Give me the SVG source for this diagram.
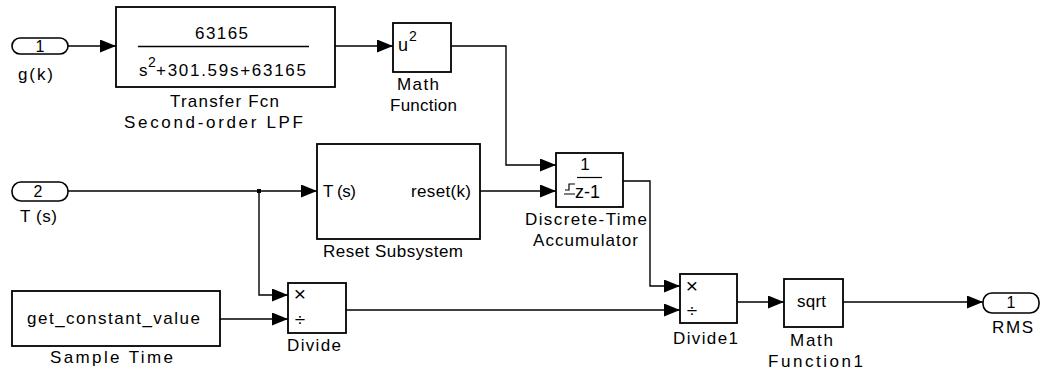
<svg xmlns="http://www.w3.org/2000/svg" width="1041" height="373" viewBox="0 0 1041 373">
<style>
.blk{fill:#fff;stroke:#000;stroke-width:1.8}
.port{fill:#fff;stroke:#000;stroke-width:1.6}
.w{fill:none;stroke:#000;stroke-width:1.4}
text{font-family:"Liberation Sans",Arial,sans-serif;font-size:17px;fill:#000}
.lbl{font-size:17px}
.in{font-size:17px}
.num{font-size:16px}
</style>
<defs>
<marker id="ah" markerUnits="userSpaceOnUse" markerWidth="17" markerHeight="13" refX="16" refY="6.5" orient="auto">
<path d="M0,0 L16,6.5 L0,13 z" fill="#000"/>
</marker>
</defs>
<rect width="1041" height="373" fill="#fff"/>
<g id="connectors">
<path class="w" d="M68,46 H116" marker-end="url(#ah)"/>
<path class="w" d="M335,46 H393" marker-end="url(#ah)"/>
<path class="w" d="M451,46 H506 V165 H556" marker-end="url(#ah)"/>
<path class="w" d="M68,191 H317" marker-end="url(#ah)"/>
<path class="w" d="M259,191 V295 H288" marker-end="url(#ah)"/>
<rect x="257" y="189" width="4" height="4" fill="#000"/>
<path class="w" d="M480,191 H556" marker-end="url(#ah)"/>
<path class="w" d="M623,181 H650 V286 H680" marker-end="url(#ah)"/>
<path class="w" d="M220,319 H288" marker-end="url(#ah)"/>
<path class="w" d="M346,310 H680" marker-end="url(#ah)"/>
<path class="w" d="M737,302 H784" marker-end="url(#ah)"/>
<path class="w" d="M843,302 H983" marker-end="url(#ah)"/>
</g>
<g id="inport1">
<rect class="port" x="12" y="38" width="56" height="16" rx="8"/>
<text class="num" x="40" y="51.5" text-anchor="middle">1</text>
<text class="lbl" x="18" y="80" textLength="35" lengthAdjust="spacing">g(k)</text>
</g>
<g id="transfer_fcn">
<rect class="blk" x="116" y="7" width="219" height="80"/>
<text class="in" x="195" y="39" textLength="53" lengthAdjust="spacing">63165</text>
<path d="M138,46.5 H309" stroke="#000" stroke-width="1.3"/>
<text class="in" x="139" y="76">s</text>
<text x="148" y="67" style="font-size:14px">2</text>
<text class="in" x="156" y="76" textLength="150" lengthAdjust="spacing">+301.59s+63165</text>
<text class="lbl" x="170" y="107" textLength="109" lengthAdjust="spacing">Transfer Fcn</text>
<text class="lbl" x="124" y="128" textLength="179" lengthAdjust="spacing">Second-order LPF</text>
</g>
<g id="math_function">
<rect class="blk" x="393" y="23" width="58" height="49"/>
<text class="in" x="398" y="51" style="font-size:18px">u</text>
<text x="409" y="41" style="font-size:14px">2</text>
<text class="lbl" x="397" y="90" textLength="42" lengthAdjust="spacing">Math</text>
<text class="lbl" x="390" y="111" textLength="67" lengthAdjust="spacing">Function</text>
</g>
<g id="inport2">
<rect class="port" x="12" y="182" width="56" height="19" rx="9"/>
<text class="num" x="38" y="197" text-anchor="middle">2</text>
<text class="lbl" x="20" y="222" textLength="37" lengthAdjust="spacing">T (s)</text>
</g>
<g id="reset_subsystem">
<rect class="blk" x="317" y="144" width="163" height="95"/>
<text class="in" x="323" y="197" textLength="33" lengthAdjust="spacing">T (s)</text>
<text class="in" x="411" y="197" textLength="60" lengthAdjust="spacing">reset(k)</text>
<text class="lbl" x="323" y="257" textLength="140" lengthAdjust="spacing">Reset Subsystem</text>
</g>
<g id="accumulator">
<rect class="blk" x="556" y="153" width="67" height="54"/>
<text class="in" x="585" y="170" text-anchor="middle">1</text>
<path d="M577,177.5 H602" stroke="#000" stroke-width="1.2"/>
<path d="M564,194 H575 M565,190 H569 V184 H575" fill="none" stroke="#000" stroke-width="1.2"/>
<text class="in" x="575" y="198" textLength="25" lengthAdjust="spacing" style="font-size:18px">z-1</text>
<text class="lbl" x="525" y="225" textLength="122" lengthAdjust="spacing">Discrete-Time</text>
<text class="lbl" x="533" y="246" textLength="105" lengthAdjust="spacing">Accumulator</text>
</g>
<g id="sample_time">
<rect class="blk" x="12" y="291" width="208" height="55"/>
<text class="in" x="27" y="324" textLength="173" lengthAdjust="spacing">get_constant_value</text>
<text class="lbl" x="50" y="363" textLength="123" lengthAdjust="spacing">Sample Time</text>
</g>
<g id="divide">
<rect class="blk" x="288" y="283" width="58" height="50"/>
<text x="300" y="301" text-anchor="middle" style="font-size:21px">×</text>
<text x="300" y="326" text-anchor="middle" style="font-size:19px">÷</text>
<text class="lbl" x="287" y="351" textLength="54" lengthAdjust="spacing">Divide</text>
</g>
<g id="divide1">
<rect class="blk" x="680" y="274" width="57" height="49"/>
<text x="692" y="293" text-anchor="middle" style="font-size:21px">×</text>
<text x="692" y="317" text-anchor="middle" style="font-size:19px">÷</text>
<text class="lbl" x="673" y="344" textLength="65" lengthAdjust="spacing">Divide1</text>
</g>
<g id="math_function1">
<rect class="blk" x="784" y="279" width="59" height="48"/>
<text class="in" x="797" y="307" textLength="29" lengthAdjust="spacing">sqrt</text>
<text class="lbl" x="790" y="346" textLength="43" lengthAdjust="spacing">Math</text>
<text class="lbl" x="768" y="367" textLength="95" lengthAdjust="spacing">Function1</text>
</g>
<g id="outport1">
<rect class="port" x="983" y="293" width="56" height="20" rx="9"/>
<text class="num" x="1011" y="308" text-anchor="middle">1</text>
<text class="lbl" x="992" y="333" textLength="41" lengthAdjust="spacing">RMS</text>
</g>
</svg>
